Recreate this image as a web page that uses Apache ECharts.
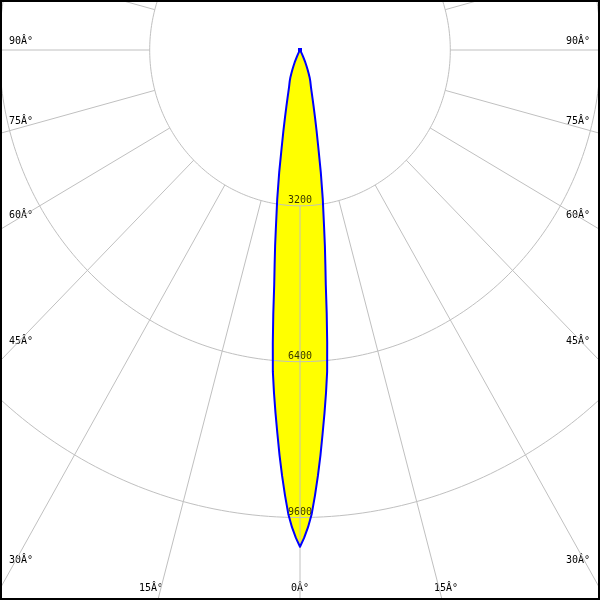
<!DOCTYPE html>
<html>
<head>
<meta charset="utf-8">
<script src="https://cdn.jsdelivr.net/npm/echarts@6/dist/echarts.min.js"></script>
<style>html,body{margin:0;padding:0;background:#fff}#c{width:600px;height:600px}</style>
</head>
<body>
<div id="c"></div>
<script>
// ---- data ----
const ringValues = [3200, 6400, 9600];
const ringLabels = ['3200', '6400', '9600'];
const spokeAngles = [0, 15, 30, 45, 60, 75, 90, 105, 120, 135, 150, 165, 180, 195, 210, 225, 240, 255, 270, 285, 300, 315, 330, 345];
const sideLabels = ['90Â°', '75Â°', '60Â°', '45Â°', '30Â°'];
const bottomLabels = ['15Â°', '0Â°', '15Â°'];
const gammaDeg = [0, 0.5, 1, 1.5, 2, 2.5, 3, 3.5, 4, 4.5, 5, 5.5, 6, 6.5, 7, 7.5, 8, 9, 10, 11, 12, 13, 14, 15, 16, 17, 18, 19, 20, 21, 22, 23, 24, 25, 26, 27, 28, 29, 30];
const intensity = [10200, 10020, 9800, 9530, 9150, 8750, 8330, 7890, 7475, 7060, 6630, 6040, 5440, 4850, 4430, 4060, 3690, 3100, 2550, 2050, 1700, 1420, 1200, 1030, 900, 800, 730, 670, 600, 510, 430, 350, 280, 210, 150, 95, 50, 20, 0];

// ---- layout ----
const sideLabelY = [41, 121.5, 215, 341, 560];
const bottomLabelX = [151, 300, 446];
const FONT = '10px "DejaVu Sans Mono"';

const rad = d => d * Math.PI / 180;
function pt(r, aDeg) { // angle measured from straight down (nadir)
  return [r * Math.sin(rad(aDeg)), -r * Math.cos(rad(aDeg))];
}

// beam polygon points (symmetric)
const beam = [];
for (let i = 0; i < gammaDeg.length; i++) beam.push(pt(intensity[i], gammaDeg[i]));
for (let i = gammaDeg.length - 1; i >= 0; i--) beam.push(pt(intensity[i], -gammaDeg[i]));

const series = [];
// fill
series.push({
  type: 'custom', z: 1, silent: true, data: [0],
  renderItem: (params, api) => ({
    type: 'polygon',
    shape: { points: beam.map(p => api.coord(p)) },
    style: { fill: '#ffff00', stroke: null }
  })
});
// ring value labels
series.push({
  type: 'scatter', z: 2, silent: true, symbol: 'circle', symbolSize: 1,
  itemStyle: { color: 'rgba(0,0,0,0)' },
  data: ringValues.map((v, i) => ({ value: [0, -v], name: ringLabels[i] })),
  label: { show: true, position: 'inside', offset: [0, -5.5], formatter: p => p.name,
           color: '#000', fontFamily: 'DejaVu Sans Mono', fontSize: 10 }
});
// rings
ringValues.forEach(v => {
  const d = [];
  for (let a = 0; a <= 360; a += 1) d.push(pt(v, a));
  series.push({ type: 'line', z: 3, silent: true, symbol: 'none', data: d,
    lineStyle: { color: '#c0c0c0', width: 1 } });
});
// spokes
spokeAngles.forEach(a => {
  series.push({ type: 'line', z: 3, silent: true, symbol: 'none',
    data: [pt(ringValues[0], a), pt(20000, a)],
    lineStyle: { color: '#c0c0c0', width: 1 } });
});
// outline
series.push({
  type: 'custom', z: 4, silent: true, data: [0],
  renderItem: (params, api) => {
    const o = api.coord(pt(intensity[intensity.length - 1], 180));
    return { type: 'group', children: [
      { type: 'polygon', shape: { points: beam.map(p => api.coord(p)) },
        style: { fill: null, stroke: '#0000ff', lineWidth: 2, lineJoin: 'round' } },
      { type: 'rect', shape: { x: o[0] - 2, y: o[1] - 2, width: 4, height: 4 },
        style: { fill: '#0000ff' } }
    ]};
  }
});

const graphic = [];
sideLabels.forEach((t, i) => {
  graphic.push({ type: 'text', silent: true, style: { text: t, x: 9, y: sideLabelY[i], font: FONT, fill: '#000', textAlign: 'left', textVerticalAlign: 'middle' } });
  graphic.push({ type: 'text', silent: true, style: { text: t, x: 590, y: sideLabelY[i], font: FONT, fill: '#000', textAlign: 'right', textVerticalAlign: 'middle' } });
});
bottomLabels.forEach((t, i) => {
  graphic.push({ type: 'text', silent: true, style: { text: t, x: bottomLabelX[i], y: 588, font: FONT, fill: '#000', textAlign: 'center', textVerticalAlign: 'middle' } });
});
graphic.push({ type: 'rect', silent: true, z: 100, shape: { x: 1, y: 1, width: 598, height: 598 },
  style: { fill: null, stroke: '#000', lineWidth: 2 } });

const chart = echarts.init(document.getElementById('c'), null, { renderer: 'canvas' });
chart.setOption({
  animation: false,
  backgroundColor: '#fff',
  grid: { left: 0, right: 0, top: 0, bottom: 0, containLabel: false },
  xAxis: { type: 'value', min: -6387, max: 6387, show: false },
  yAxis: { type: 'value', min: -11294, max: 1027, show: false },
  graphic: graphic,
  series: series
});
</script>
</body>
</html>
